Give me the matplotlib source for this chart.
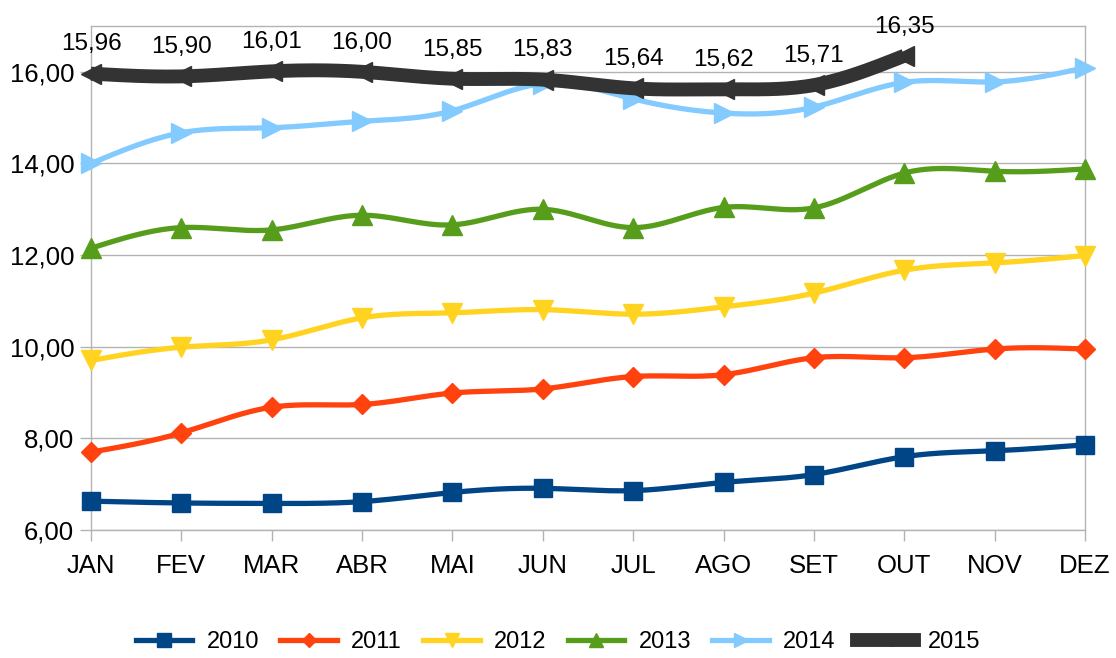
import numpy as np
import matplotlib
matplotlib.use("Agg")
import matplotlib.pyplot as plt
from matplotlib.ticker import FuncFormatter

plt.rcParams['font.family'] = ['Liberation Sans', 'DejaVu Sans']

months = ["JAN", "FEV", "MAR", "ABR", "MAI", "JUN", "JUL", "AGO", "SET", "OUT", "NOV", "DEZ"]
s2010 = [6.63, 6.59, 6.58, 6.62, 6.82, 6.91, 6.86, 7.04, 7.21, 7.60, 7.73, 7.86]
s2011 = [7.70, 8.12, 8.68, 8.74, 8.99, 9.08, 9.35, 9.39, 9.76, 9.76, 9.95, 9.95]
s2012 = [9.70, 9.99, 10.15, 10.63, 10.74, 10.81, 10.71, 10.87, 11.17, 11.67, 11.83, 11.99]
s2013 = [12.15, 12.60, 12.55, 12.87, 12.66, 13.00, 12.60, 13.04, 13.03, 13.79, 13.83, 13.88]
s2014 = [14.00, 14.67, 14.78, 14.92, 15.15, 15.74, 15.41, 15.10, 15.23, 15.77, 15.78, 16.09]
s2015 = [15.96, 15.90, 16.01, 16.00, 15.85, 15.83, 15.64, 15.62, 15.71, 16.35]
yticks = [6, 8, 10, 12, 14, 16]

series = [
    ("2010", s2010, "#004586", "s", 13, 3.8),
    ("2011", s2011, "#ff420e", "D", 10, 3.8),
    ("2012", s2012, "#ffd320", "v", 14, 3.8),
    ("2013", s2013, "#579d1c", "^", 14, 3.8),
    ("2014", s2014, "#83caff", ">", 14, 3.8),
    ("2015", s2015, "#333333", "<", 14, 10.0),
]


def natural_spline(x, y, n=30):
    x = np.asarray(x, float)
    y = np.asarray(y, float)
    k = len(x)
    h = np.diff(x)
    A = np.zeros((k, k))
    b = np.zeros(k)
    A[0, 0] = 1
    A[-1, -1] = 1
    for i in range(1, k - 1):
        A[i, i - 1] = h[i - 1]
        A[i, i] = 2 * (h[i - 1] + h[i])
        A[i, i + 1] = h[i]
        b[i] = 6 * ((y[i + 1] - y[i]) / h[i] - (y[i] - y[i - 1]) / h[i - 1])
    M = np.linalg.solve(A, b)
    xs, ys = [], []
    for i in range(k - 1):
        t = np.linspace(x[i], x[i + 1], n, endpoint=(i == k - 2))
        a = x[i + 1] - t
        c = t - x[i]
        v = (M[i] * a ** 3 + M[i + 1] * c ** 3) / (6 * h[i]) \
            + (y[i] / h[i] - M[i] * h[i] / 6) * a \
            + (y[i + 1] / h[i] - M[i + 1] * h[i] / 6) * c
        xs.append(t)
        ys.append(v)
    return np.concatenate(xs), np.concatenate(ys)


fig = plt.figure(figsize=(11.16, 6.58), dpi=100)
ax = fig.add_axes([0.0815, 0.1945, 0.8907, 0.766])

handles = []
for i, (name, vals, col, mk, ms, lw) in enumerate(series):
    x = np.arange(len(vals))
    sx, sy = natural_spline(x, vals)
    ax.plot(sx, sy, color=col, lw=lw, solid_capstyle='butt', zorder=3 + i, clip_on=False)
    ax.plot(x, vals, ls='none', marker=mk, ms=ms, color=col, zorder=3 + i, clip_on=False)
    h, = ax.plot([], [], color=col, lw=lw, marker=mk, ms=ms * 0.75 if name != "2015" else 8)
    handles.append(h)

for i, v in enumerate(s2015):
    ax.annotate(f"{v:.2f}".replace(".", ","), (i, v), xytext=(0, 21), textcoords='offset points',
                ha='center', va='center', fontsize=17.5, zorder=20)

ax.set_xlim(0, 11)
ax.set_ylim(6, 17)
ax.set_xticks(range(12))
ax.set_xticklabels(months)
ax.set_yticks(yticks)
ax.yaxis.set_major_formatter(FuncFormatter(lambda v, p: f"{v:.2f}".replace(".", ",")))
ax.grid(axis='y', color='#b3b3b3', lw=1)
ax.set_axisbelow(True)
for s in ax.spines.values():
    s.set_color('#b3b3b3')
    s.set_linewidth(1)
ax.tick_params(axis='both', colors='#b3b3b3', labelcolor='black', labelsize=18.5,
               length=8, width=1, direction='out')
ax.tick_params(axis='x', pad=9)
ax.tick_params(axis='y', pad=4)

fig.legend(handles, [s[0] for s in series], loc='lower center', bbox_to_anchor=(0.5, -0.018),
           ncol=6, frameon=False, fontsize=17, handlelength=2.4, handletextpad=0.6,
           columnspacing=0.9, borderaxespad=0.3)

fig.savefig("out.png", dpi=100)
